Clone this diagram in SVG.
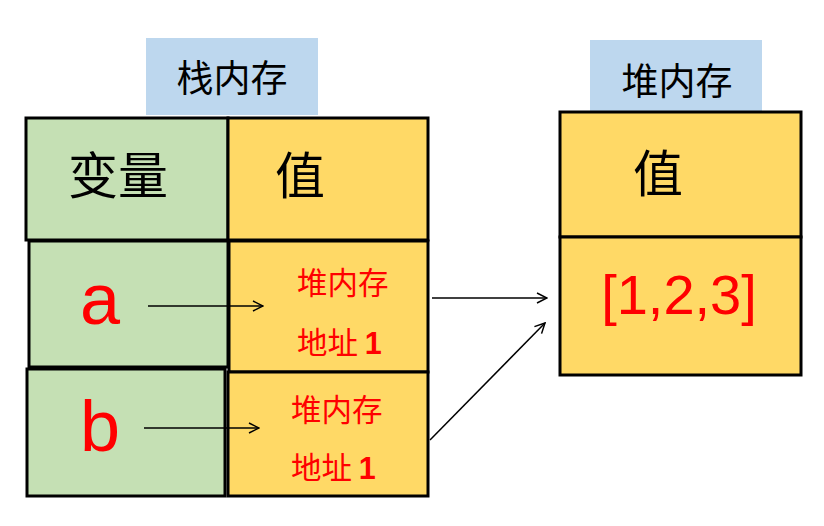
<svg xmlns="http://www.w3.org/2000/svg" width="824" height="526" viewBox="0 0 824 526">
<style>
.lbl{fill:#bdd7ee}
.g{fill:#c5e0b4;stroke:#000;stroke-width:3}
.y{fill:#ffd966;stroke:#000;stroke-width:3}
.cjk{font-family:"Noto Sans CJK SC",sans-serif;fill:#000;text-anchor:middle}
.red{font-family:"Noto Sans CJK SC",sans-serif;fill:#ff0000;font-size:30.5px}
.lat{font-family:"Liberation Sans",Arial,sans-serif;fill:#ff0000;text-anchor:middle}
.conn{stroke:#000;stroke-width:1.5;fill:none}
</style>
<defs>
<marker id="arr" viewBox="0 0 12 12" refX="11" refY="6" markerWidth="12" markerHeight="12" markerUnits="userSpaceOnUse" orient="auto">
<path d="M1,1 L11,6 L1,11" fill="none" stroke="#000" stroke-width="1.5"/>
</marker>
</defs>
<rect width="824" height="526" fill="#fff"/>
<g id="stack-title">
<rect class="lbl" x="146" y="38" width="172" height="77"/>
<text class="cjk" x="232" y="92" font-size="37">栈内存</text>
</g>
<g id="heap-title">
<rect class="lbl" x="590" y="40" width="172" height="72"/>
<text class="cjk" x="677" y="95" font-size="37">堆内存</text>
</g>
<g id="header-var">
<rect class="g" x="26" y="118" width="202" height="122"/>
<text class="cjk" x="118" y="194" font-size="50">变量</text>
</g>
<g id="header-val">
<rect class="y" x="228" y="118" width="200" height="122"/>
<text class="cjk" x="300" y="194" font-size="50">值</text>
</g>
<g id="var-a">
<rect class="g" x="29" y="241" width="199" height="126"/>
<text class="lat" x="100" y="324" font-size="72">a</text>
</g>
<g id="val-a">
<rect class="y" x="229" y="241" width="199" height="131"/>
<text class="red" x="297" y="294">堆内存</text>
<text class="red" x="297" y="354">地址 <tspan font-family="Liberation Sans,Arial,sans-serif" font-weight="bold">1</tspan></text>
</g>
<g id="var-b">
<rect class="g" x="27" y="369" width="198" height="127"/>
<text class="lat" x="100" y="451" font-size="72">b</text>
</g>
<g id="val-b">
<rect class="y" x="228" y="372" width="200" height="124"/>
<text class="red" x="291" y="421">堆内存</text>
<text class="red" x="291" y="479">地址 <tspan font-family="Liberation Sans,Arial,sans-serif" font-weight="bold">1</tspan></text>
</g>
<g id="heap-header">
<rect class="y" x="560" y="112" width="241" height="125"/>
<text class="cjk" x="658" y="192" font-size="50">值</text>
</g>
<g id="heap-value">
<rect class="y" x="560" y="237" width="241" height="138"/>
<text class="lat" x="679" y="314" font-size="56">[1,2,3]</text>
</g>
<g id="connectors">
<line class="conn" x1="148" y1="306" x2="263" y2="306" marker-end="url(#arr)"/>
<line class="conn" x1="144" y1="428" x2="259" y2="428" marker-end="url(#arr)"/>
<line class="conn" x1="432" y1="298" x2="547" y2="298" marker-end="url(#arr)"/>
<line class="conn" x1="430" y1="440" x2="545" y2="323" marker-end="url(#arr)"/>
</g>
</svg>
